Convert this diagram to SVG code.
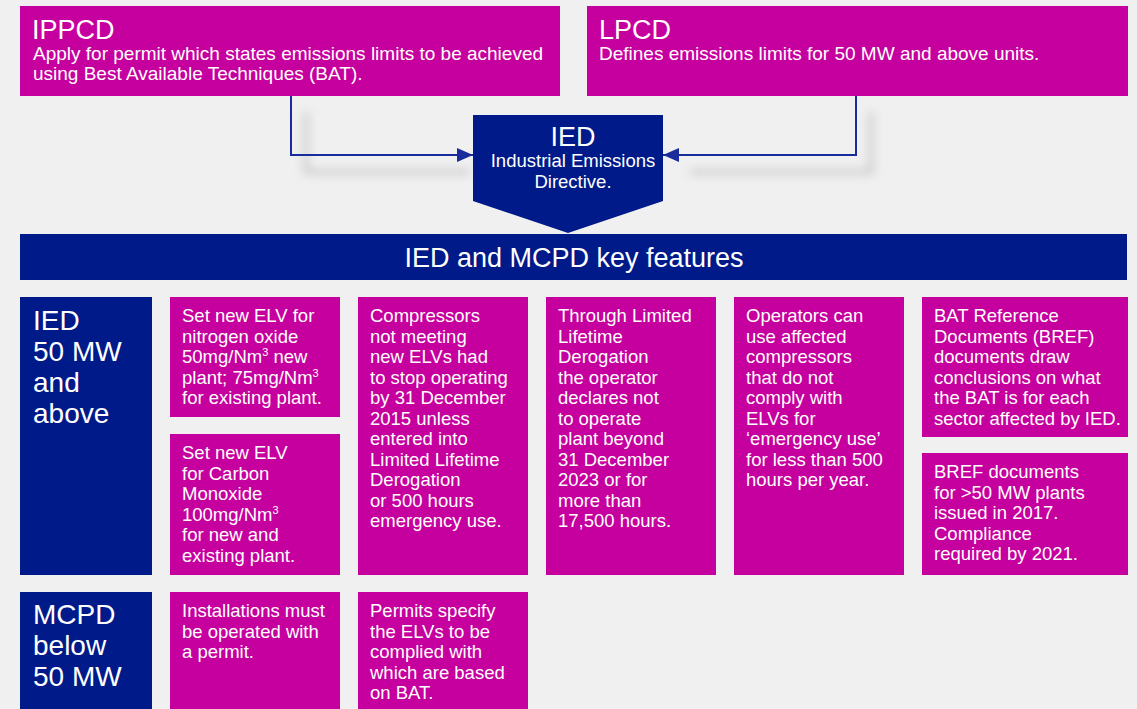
<svg xmlns="http://www.w3.org/2000/svg" width="1137" height="709" viewBox="0 0 1137 709">
  <defs>
    <style>
      text { font-family: "Liberation Sans", Arial, sans-serif; fill: #ffffff; }
      .mag { fill: #c6009e; }
      .blu { fill: #001a8a; }
      .body { font-size: 18.5px; }
      .title { font-size: 27px; }
      .sub { font-size: 19px; }
      .side { font-size: 28px; }
      .conn { fill: none; stroke: #1a2c9c; stroke-width: 2; }
      .shadow { fill: none; stroke: #c8c8c8; stroke-width: 6; }
    </style>
    <marker id="arrowhead" viewBox="0 0 16 14" refX="16" refY="7" markerWidth="16" markerHeight="14" markerUnits="userSpaceOnUse" orient="auto">
      <path d="M0,0 L16,7 L0,14 Z" fill="#1a2c9c"/>
    </marker>
    <filter id="soft" x="-20%" y="-50%" width="140%" height="200%">
      <feGaussianBlur stdDeviation="5"/>
    </filter>
  </defs>

  <rect width="1137" height="709" fill="#f0f0f0"/>

  <!-- connector shadows -->
  <g id="connector-shadows" filter="url(#soft)" opacity="0.8">
    <path class="shadow" d="M306,112 L306,172 L470,172"/>
    <path class="shadow" d="M871,112 L871,172 L690,172"/>
  </g>

  <!-- connectors -->
  <g id="connectors">
    <path class="conn" d="M291,96 L291,155 L473,155" marker-end="url(#arrowhead)"/>
    <path class="conn" d="M856,96 L856,155 L663,155" marker-end="url(#arrowhead)"/>
  </g>

  <g id="ippcd">
    <rect class="mag" x="20" y="6" width="540" height="90"/>
    <text class="title" x="32" y="39">IPPCD</text>
    <text class="sub" x="33" y="60">Apply for permit which states emissions limits to be achieved</text>
    <text class="sub" x="33" y="80">using Best Available Techniques (BAT).</text>
  </g>

  <g id="lpcd">
    <rect class="mag" x="587" y="6" width="541" height="90"/>
    <text class="title" x="599" y="39">LPCD</text>
    <text class="sub" x="599" y="60">Defines emissions limits for 50 MW and above units.</text>
  </g>

  <g id="ied">
    <path class="blu" d="M473,115 L663,115 L663,201 L568,233 L473,201 Z"/>
    <text x="573" y="146" font-size="27" text-anchor="middle">IED</text>
    <text x="573" y="167" font-size="18.5" text-anchor="middle">Industrial Emissions</text>
    <text x="573" y="188" font-size="18.5" text-anchor="middle">Directive.</text>
  </g>

  <g id="header">
    <rect class="blu" x="20" y="234" width="1107" height="46"/>
    <text x="574" y="267" font-size="27" text-anchor="middle">IED and MCPD key features</text>
  </g>

  <g id="ied-50mw">
    <rect class="blu" x="20" y="297" width="132" height="278"/>
    <text class="side" x="33" y="330">IED</text>
    <text class="side" x="33" y="361">50 MW</text>
    <text class="side" x="33" y="392">and</text>
    <text class="side" x="33" y="423">above</text>
  </g>

  <g id="elv-nox">
    <rect class="mag" x="170" y="297" width="170" height="120"/>
    <text class="body" x="182" y="322">Set new ELV for</text>
    <text class="body" x="182" y="342.5">nitrogen oxide</text>
    <text class="body" x="182" y="363">50mg/Nm<tspan font-size="11" dy="-7">3</tspan><tspan dy="7"> new</tspan></text>
    <text class="body" x="182" y="383.5">plant; 75mg/Nm<tspan font-size="11" dy="-7">3</tspan></text>
    <text class="body" x="182" y="404">for existing plant.</text>
  </g>

  <g id="elv-co">
    <rect class="mag" x="170" y="434" width="170" height="141"/>
    <text class="body" x="182" y="459">Set new ELV</text>
    <text class="body" x="182" y="479.5">for Carbon</text>
    <text class="body" x="182" y="500">Monoxide</text>
    <text class="body" x="182" y="520.5">100mg/Nm<tspan font-size="11" dy="-7">3</tspan></text>
    <text class="body" x="182" y="541">for new and</text>
    <text class="body" x="182" y="561.5">existing plant.</text>
  </g>

  <g id="compressors">
    <rect class="mag" x="358" y="297" width="170" height="278"/>
    <text class="body" x="370" y="322">Compressors</text>
    <text class="body" x="370" y="342.5">not meeting</text>
    <text class="body" x="370" y="363">new ELVs had</text>
    <text class="body" x="370" y="383.5">to stop operating</text>
    <text class="body" x="370" y="404">by 31 December</text>
    <text class="body" x="370" y="424.5">2015 unless</text>
    <text class="body" x="370" y="445">entered into</text>
    <text class="body" x="370" y="465.5">Limited Lifetime</text>
    <text class="body" x="370" y="486">Derogation</text>
    <text class="body" x="370" y="506.5">or 500 hours</text>
    <text class="body" x="370" y="527">emergency use.</text>
  </g>

  <g id="derogation">
    <rect class="mag" x="546" y="297" width="170" height="278"/>
    <text class="body" x="558" y="322">Through Limited</text>
    <text class="body" x="558" y="342.5">Lifetime</text>
    <text class="body" x="558" y="363">Derogation</text>
    <text class="body" x="558" y="383.5">the operator</text>
    <text class="body" x="558" y="404">declares not</text>
    <text class="body" x="558" y="424.5">to operate</text>
    <text class="body" x="558" y="445">plant beyond</text>
    <text class="body" x="558" y="465.5">31 December</text>
    <text class="body" x="558" y="486">2023 or for</text>
    <text class="body" x="558" y="506.5">more than</text>
    <text class="body" x="558" y="527">17,500 hours.</text>
  </g>

  <g id="emergency-use">
    <rect class="mag" x="734" y="297" width="170" height="278"/>
    <text class="body" x="746" y="322">Operators can</text>
    <text class="body" x="746" y="342.5">use affected</text>
    <text class="body" x="746" y="363">compressors</text>
    <text class="body" x="746" y="383.5">that do not</text>
    <text class="body" x="746" y="404">comply with</text>
    <text class="body" x="746" y="424.5">ELVs for</text>
    <text class="body" x="746" y="445">‘emergency use’</text>
    <text class="body" x="746" y="465.5">for less than 500</text>
    <text class="body" x="746" y="486">hours per year.</text>
  </g>

  <g id="bref">
    <rect class="mag" x="922" y="297" width="206" height="140"/>
    <text class="body" x="934" y="322">BAT Reference</text>
    <text class="body" x="934" y="342.5">Documents (BREF)</text>
    <text class="body" x="934" y="363">documents draw</text>
    <text class="body" x="934" y="383.5">conclusions on what</text>
    <text class="body" x="934" y="404">the BAT is for each</text>
    <text class="body" x="934" y="424.5">sector affected by IED.</text>
  </g>

  <g id="bref-2017">
    <rect class="mag" x="922" y="453" width="206" height="122"/>
    <text class="body" x="934" y="478">BREF documents</text>
    <text class="body" x="934" y="498.5">for &gt;50 MW plants</text>
    <text class="body" x="934" y="519">issued in 2017.</text>
    <text class="body" x="934" y="539.5">Compliance</text>
    <text class="body" x="934" y="560">required by 2021.</text>
  </g>

  <g id="mcpd">
    <rect class="blu" x="20" y="592" width="132" height="130"/>
    <text class="side" x="33" y="624">MCPD</text>
    <text class="side" x="33" y="655">below</text>
    <text class="side" x="33" y="686">50 MW</text>
  </g>

  <g id="permit">
    <rect class="mag" x="170" y="592" width="170" height="130"/>
    <text class="body" x="182" y="617">Installations must</text>
    <text class="body" x="182" y="637.5">be operated with</text>
    <text class="body" x="182" y="658">a permit.</text>
  </g>

  <g id="permit-elv">
    <rect class="mag" x="358" y="592" width="170" height="130"/>
    <text class="body" x="370" y="617">Permits specify</text>
    <text class="body" x="370" y="637.5">the ELVs to be</text>
    <text class="body" x="370" y="658">complied with</text>
    <text class="body" x="370" y="678.5">which are based</text>
    <text class="body" x="370" y="699">on BAT.</text>
  </g>
</svg>
